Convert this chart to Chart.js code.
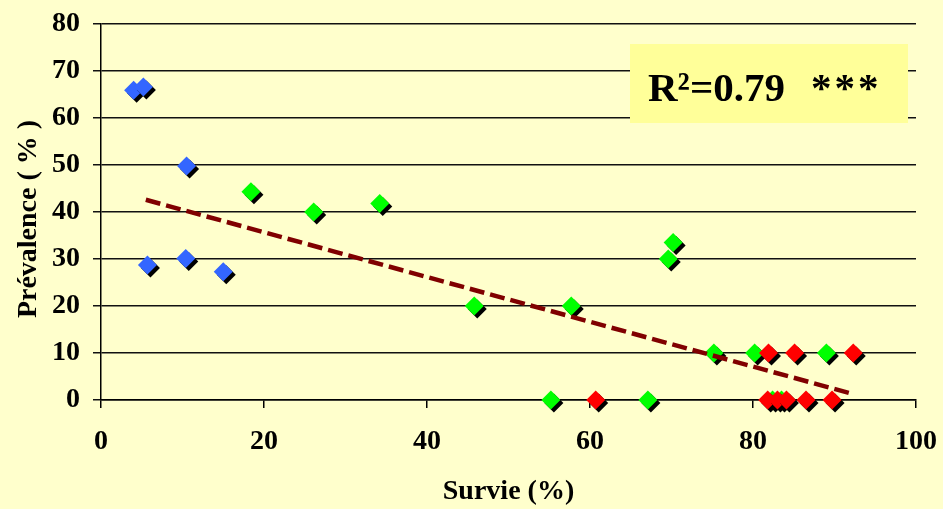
<!DOCTYPE html>
<html><head><meta charset="utf-8">
<script src="https://cdn.jsdelivr.net/npm/chart.js@4/dist/chart.umd.min.js"></script>
<style>html,body{margin:0;padding:0;background:#FFFFCC;} #wrap{width:943px;height:509px;}</style>
</head><body><div id="wrap"><canvas id="c" width="943" height="509"></canvas></div>
<script>
// ---- data ----
const blueX  = [4.0, 5.2, 10.5, 5.7, 10.4, 15.0];
const blueY  = [65.9, 66.6, 49.8, 28.7, 30.1, 27.3];
const greenX = [18.4, 26.1, 34.2, 45.8, 57.7, 55.2, 67.1, 70.2, 69.6, 75.2, 80.2, 89.0, 82.4, 83.5];
const greenY = [44.3, 40.0, 41.8, 20.0, 20.0, 0, 0, 33.5, 30.0, 10.0, 10.0, 10.0, 0, 0];
const redX   = [60.7, 81.9, 85.1, 92.3, 81.8, 83.0, 84.1, 86.5, 89.7];
const redY   = [0, 10, 10, 10, 0, 0, 0, 0, 0];
const trendX = [5.5, 92.0];
const trendY = [42.6, 1.4];
const xTickValues = [0, 20, 40, 60, 80, 100];
const yTickValues = [0, 10, 20, 30, 40, 50, 60, 70, 80];
const xTitle = "Survie (%)";
const yTitle = "Prévalence ( % )  ";
const r2Label = "R²=0.79";
const signifLabel = "***";

const pts = (xs, ys) => xs.map((x, i) => ({x, y: ys[i]}));
const FONT = "'Liberation Serif', 'Times New Roman', serif";

const shadowPlugin = {
  id: 'shadow',
  beforeDatasetDraw(chart, args) {
    if (chart.data.datasets[args.index].shadow) {
      const ctx = chart.ctx; ctx.save();
      ctx.shadowColor = '#000'; ctx.shadowOffsetX = 3; ctx.shadowOffsetY = 3; ctx.shadowBlur = 0;
    }
  },
  afterDatasetDraw(chart, args) {
    if (chart.data.datasets[args.index].shadow) chart.ctx.restore();
  }
};

const boxPlugin = {
  id: 'r2box',
  beforeDatasetsDraw(chart) {
    const ctx = chart.ctx, a = chart.chartArea;
    const left = a.right - 286, top = a.top + 20, w = 278, h = 79;
    ctx.save();
    ctx.fillStyle = '#FFFF99';
    ctx.fillRect(left, top, w, h);
    ctx.fillStyle = '#000';
    ctx.font = "bold 41px " + FONT;
    ctx.textBaseline = 'alphabetic';
    ctx.textAlign = 'left';
    ctx.fillText(r2Label, left + 18, top + 57);
    ctx.letterSpacing = '3px';
    ctx.fillText(signifLabel, left + 181, top + 57);
    ctx.restore();
  }
};

const bgPlugin = {
  id: 'bg',
  beforeDraw(chart) {
    const ctx = chart.ctx; ctx.save(); ctx.fillStyle = '#FFFFCC';
    ctx.fillRect(0, 0, chart.width, chart.height); ctx.restore();
  }
};

const diamond = (color, order) => ({
  pointStyle: 'rectRot', pointRadius: 9.5, pointHoverRadius: 9.5,
  backgroundColor: color, borderColor: color, borderWidth: 0,
  showLine: false, shadow: true, clip: false, order
});

new Chart(document.getElementById('c'), {
  type: 'scatter',
  data: {
    datasets: [
      Object.assign({label: 'blue', data: pts(blueX, blueY)}, diamond('#3366FF', 3)),
      Object.assign({label: 'green', data: pts(greenX, greenY)}, diamond('#00FF00', 2)),
      Object.assign({label: 'red', data: pts(redX, redY)}, diamond('#FF0000', 1)),
      {label: 'trend', type: 'line', data: pts(trendX, trendY), showLine: true,
       borderColor: '#800000', borderWidth: 4.5, borderDash: [15, 6], pointRadius: 0,
       fill: false, clip: false, order: 0}
    ]
  },
  options: {
    responsive: false, animation: false, devicePixelRatio: 1,
    layout: {padding: {left: 0, right: 27, top: 24, bottom: 0}},
    plugins: {legend: {display: false}, tooltip: {enabled: false}},
    scales: {
      x: {
        type: 'linear', min: 0, max: 100,
        afterBuildTicks: s => { s.ticks = xTickValues.map(v => ({value: v})); },
        afterFit: s => { s.height = 109; s.paddingLeft = 0; s.paddingRight = 0; },
        ticks: {font: {family: FONT, size: 28, weight: 'bold'}, color: '#000', padding: 17, maxRotation: 0},
        grid: {drawOnChartArea: false, drawTicks: true, tickLength: 8, color: '#000', lineWidth: 1.5},
        border: {display: true, color: '#000', width: 1.5},
        title: {display: true, text: xTitle, color: '#000', font: {family: FONT, size: 28, weight: 'bold'}, padding: {top: 0, bottom: 0}}
      },
      y: {
        type: 'linear', min: 0, max: 80,
        afterBuildTicks: s => { s.ticks = yTickValues.map(v => ({value: v})); },
        afterFit: s => { s.width = 101; s.paddingTop = 0; s.paddingBottom = 0; },
        ticks: {font: {family: FONT, size: 28, weight: 'bold'}, color: '#000', padding: 13},
        grid: {drawOnChartArea: true, drawTicks: true, tickLength: 8, color: '#111', lineWidth: 1.5},
        border: {display: true, color: '#000', width: 1.5},
        title: {display: true, text: yTitle, color: '#000', font: {family: FONT, size: 28, weight: 'bold'}, padding: {top: 12, bottom: 0}}
      }
    }
  },
  plugins: [bgPlugin, shadowPlugin, boxPlugin]
});
</script></body></html>
